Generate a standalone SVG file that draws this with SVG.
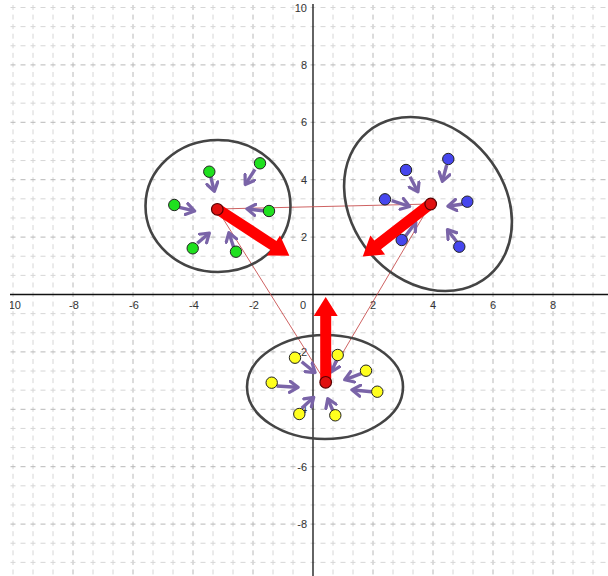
<svg xmlns="http://www.w3.org/2000/svg" width="608" height="576" viewBox="0 0 608 576">
<defs>
<style>
.gv{stroke:#d6d6d6;stroke-width:1;stroke-dasharray:5 4.567;fill:none}
.gh{stroke:#d6d6d6;stroke-width:1;stroke-dasharray:5 5;fill:none}
.mv{stroke:#b8b8b8}
.ax{stroke:#111;stroke-width:1.3;fill:none}
.lb{font-family:"Liberation Sans",Arial,sans-serif;font-size:11px;fill:#333}
.ell{fill:none;stroke:#444;stroke-width:2.6}
.tl{stroke:#c85050;stroke-width:0.9;fill:none}
.pa{stroke:#7a64a8;stroke-width:3.4;fill:none;marker-end:url(#ph)}
.g{fill:#1fe01f;stroke:#222;stroke-width:1}
.b{fill:#4646ee;stroke:#222;stroke-width:1}
.y{fill:#ffff1e;stroke:#222;stroke-width:1}
.c{fill:#e01010;stroke:#5a0000;stroke-width:1.2}
.ra{fill:#ff0000}
</style>
<marker id="ph" viewBox="0 0 10 10" refX="6" refY="5" markerWidth="14" markerHeight="14" markerUnits="userSpaceOnUse" orient="auto">
<path d="M1,1 L7,5 L1,9" fill="none" stroke="#7a64a8" stroke-width="2.3" stroke-linecap="round" stroke-linejoin="round"/>
</marker>
<path id="bigarrow" d="M0,-5.5 L65,-5.5 L65,-12 L84,0 L65,12 L65,5.5 L0,5.5 Z"/>
<clipPath id="plot"><rect x="10" y="4" width="598" height="572"/></clipPath>
</defs>
<rect width="608" height="576" fill="#fff"/>
<g id="grid" clip-path="url(#plot)">
<g class="gv">
<path d="M13,5V576M33,5V576M53,5V576M93,5V576M113,5V576M153,5V576M173,5V576M213,5V576M233,5V576M273,5V576M293,5V576M333,5V576M353,5V576M393,5V576M413,5V576M453,5V576M473,5V576M513,5V576M533,5V576M573,5V576M593,5V576"/>
<path class="mv" d="M73,5V576M133,5V576M193,5V576M253,5V576M373,5V576M433,5V576M493,5V576M553,5V576"/>
</g>
<g class="gh">
<path d="M10.5,7.5H608M10.5,26.63H608M10.5,45.77H608M10.5,84.03H608M10.5,103.17H608M10.5,141.43H608M10.5,160.57H608M10.5,198.83H608M10.5,217.97H608M10.5,256.23H608M10.5,275.37H608M10.5,313.63H608M10.5,332.77H608M10.5,371.03H608M10.5,390.17H608M10.5,428.43H608M10.5,447.57H608M10.5,485.83H608M10.5,504.97H608M10.5,543.23H608M10.5,562.37H608"/>
<path class="mv" d="M10.5,64.9H608M10.5,122.3H608M10.5,179.7H608M10.5,237.1H608M10.5,351.9H608M10.5,409.3H608M10.5,466.7H608M10.5,524.1H608"/>
</g>
</g>
<g id="axes" clip-path="url(#plot)">
<path class="ax" d="M10,294.5H608M313,4V576"/>
<g class="lb" text-anchor="middle">
<text x="13" y="309">-10</text>
<text x="74" y="309">-8</text>
<text x="134" y="309">-6</text>
<text x="194" y="309">-4</text>
<text x="254" y="309">-2</text>
<text x="303" y="309">0</text>
<text x="373" y="309">2</text>
<text x="433" y="309">4</text>
<text x="493" y="309">6</text>
<text x="553" y="309">8</text>
</g>
<g class="lb" text-anchor="end">
<text x="307" y="12">10</text>
<text x="307" y="69">8</text>
<text x="307" y="126">6</text>
<text x="307" y="184">4</text>
<text x="307" y="241">2</text>
<text x="307" y="356">-2</text>
<text x="307" y="413">-4</text>
<text x="307" y="471">-6</text>
<text x="307" y="528">-8</text>
</g>
</g>
<g id="connectors">
<path class="tl" d="M217,209L430.5,204L325.5,382Z"/>
</g>
<g id="cluster-green">
<ellipse class="ell" cx="218" cy="206" rx="72.5" ry="66"/>
<path class="pa" d="M210.7,176.7L214,190"/>
<path class="pa" d="M255,169.3L246,183.3"/>
<path class="pa" d="M179.3,207.3L193.3,210.7"/>
<path class="pa" d="M265,211L248.3,209"/>
<path class="pa" d="M197.3,243.3L208.3,234"/>
<path class="pa" d="M234,248.3L229.3,234"/>
<circle class="g" cx="209.3" cy="171.7" r="5.7"/>
<circle class="g" cx="260" cy="163.3" r="5.7"/>
<circle class="g" cx="174.3" cy="205" r="5.7"/>
<circle class="g" cx="269" cy="211" r="5.7"/>
<circle class="g" cx="192.7" cy="248.3" r="5.7"/>
<circle class="g" cx="236" cy="251.7" r="5.7"/>
<use href="#bigarrow" class="ra" transform="translate(219,210) rotate(33.1)"/>
<circle class="c" cx="217.3" cy="209.3" r="5.8"/>
</g>
<g id="cluster-blue">
<ellipse class="ell" cx="0" cy="0" rx="94" ry="76" transform="translate(428,204) rotate(50)"/>
<path class="pa" d="M410,176.7L417.3,190.7"/>
<path class="pa" d="M446.7,165L442.7,180"/>
<path class="pa" d="M391.7,200.7L408.3,206"/>
<path class="pa" d="M463.3,204L449.3,206"/>
<path class="pa" d="M405,236.7L415,223.3"/>
<path class="pa" d="M456.7,241.7L448.3,230.7"/>
<circle class="b" cx="406" cy="170" r="5.7"/>
<circle class="b" cx="448.3" cy="159" r="5.7"/>
<circle class="b" cx="385" cy="199.3" r="5.7"/>
<circle class="b" cx="467.3" cy="201.7" r="5.7"/>
<circle class="b" cx="401.7" cy="240" r="5.7"/>
<circle class="b" cx="459.3" cy="246.7" r="5.7"/>
<use href="#bigarrow" class="ra" transform="translate(429,205) rotate(142.1)"/>
<circle class="c" cx="430.7" cy="204" r="5.8"/>
</g>
<g id="cluster-yellow">
<ellipse class="ell" cx="325" cy="387" rx="78" ry="52"/>
<path class="pa" d="M301.7,361.7L314,371.7"/>
<path class="pa" d="M336.7,360L331.7,370.7"/>
<path class="pa" d="M276.7,386L296.7,387.3"/>
<path class="pa" d="M361.7,373.3L346,379.3"/>
<path class="pa" d="M371.7,391.7L353.3,390"/>
<path class="pa" d="M301.7,408.3L312.7,398.3"/>
<path class="pa" d="M333.3,411.7L328.3,400"/>
<circle class="y" cx="295" cy="357.7" r="5.7"/>
<circle class="y" cx="337.7" cy="355" r="5.7"/>
<circle class="y" cx="271.7" cy="382.7" r="5.7"/>
<circle class="y" cx="366" cy="370.7" r="5.7"/>
<circle class="y" cx="377.3" cy="391.7" r="5.7"/>
<circle class="y" cx="299.3" cy="414" r="5.7"/>
<circle class="y" cx="335.3" cy="415.3" r="5.7"/>
<use href="#bigarrow" class="ra" transform="translate(325.7,381) rotate(-90)"/>
<circle class="c" cx="325.7" cy="382.3" r="5.8"/>
</g>
</svg>
